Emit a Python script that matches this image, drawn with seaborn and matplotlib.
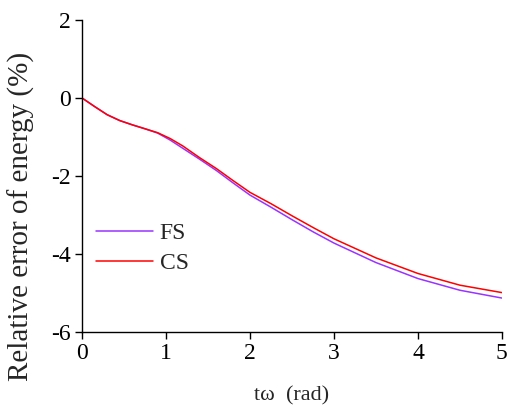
import matplotlib
matplotlib.use("Agg")
import matplotlib.pyplot as plt
import seaborn as sns
import pandas as pd

t = [0, 0.15, 0.3, 0.45, 0.6, 0.75, 0.9, 1.05, 1.2, 1.4, 1.6, 1.8, 2.0, 2.25, 2.5, 2.75, 3.0, 3.5, 4.0, 4.5, 5.0]
fs = [0, -0.22, -0.43, -0.58, -0.69, -0.79, -0.90, -1.08, -1.29, -1.57, -1.86, -2.18, -2.49, -2.80, -3.12, -3.43, -3.72, -4.22, -4.63, -4.93, -5.13]
cs = [0, -0.22, -0.43, -0.58, -0.69, -0.79, -0.89, -1.04, -1.23, -1.53, -1.81, -2.12, -2.42, -2.71, -3.02, -3.32, -3.61, -4.10, -4.50, -4.80, -4.99]
series_names = ["FS", "CS"]
xticks = [0, 1, 2, 3, 4, 5]
yticks = [-6, -4, -2, 0, 2]

df = pd.DataFrame({
    "t": t + t,
    "err": fs + cs,
    "series": [series_names[0]] * len(t) + [series_names[1]] * len(t),
})

sns.set_style("ticks")
plt.rcParams['font.family'] = ['Liberation Serif', 'DejaVu Serif']
plt.rcParams['axes.linewidth'] = 1.0

fig = plt.figure(figsize=(5.07, 4.07), dpi=100)
ax = fig.add_axes([0.1617, 0.1843, 0.8283, 0.7667])

sns.lineplot(data=df, x="t", y="err", hue="series", ax=ax,
             palette={"FS": "#9933ff", "CS": "#ff0000"}, linewidth=1.1, sort=False)

ax.set_xlim(0, 5)
ax.set_ylim(-6, 2)
ax.set_xticks(xticks)
ax.set_yticks(yticks)
ax.set_xticklabels([str(v) for v in xticks])
ax.set_yticklabels([str(v) for v in yticks])
ax.tick_params(axis='both', direction='out', length=5, width=1, labelsize=17, colors='black', pad=3)
for s in ["top", "right"]:
    ax.spines[s].set_visible(False)
for s in ["left", "bottom"]:
    ax.spines[s].set_color("black")

ax.set_xlabel("tω  (rad)", fontsize=16, labelpad=16)
ax.set_ylabel("Relative error of energy (%)", fontsize=21)
ax.yaxis.set_label_coords(-0.112, 0.37)

leg = ax.legend(loc='upper left', bbox_to_anchor=(0.033, 0.35), frameon=False,
                borderaxespad=0, borderpad=0,
                fontsize=17, handlelength=2.4, handletextpad=0.3, labelspacing=0.36)

fig.savefig("out.png", dpi=100)
